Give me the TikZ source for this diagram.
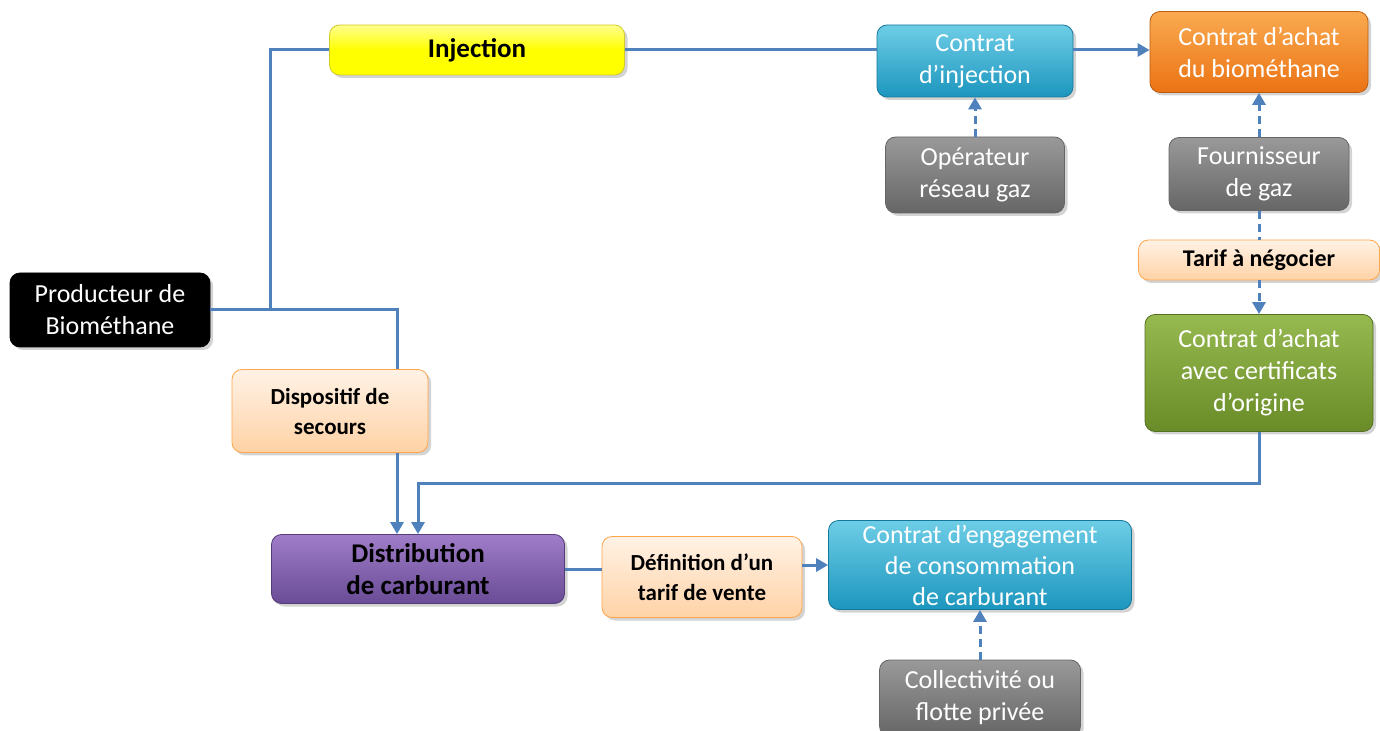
\documentclass[tikz,border=0pt]{standalone}
\usepackage{fontspec}
\setmainfont{Carlito}
\usetikzlibrary{arrows.meta,shadows}
\definecolor{lien}{RGB}{79,129,189}
\definecolor{ctrhaut}{RGB}{110,205,230}
\definecolor{ctrbas}{RGB}{28,150,190}
\definecolor{vhaut}{RGB}{150,185,80}
\definecolor{vbas}{RGB}{105,140,40}
\definecolor{phaut}{RGB}{160,125,200}
\definecolor{pbas}{RGB}{105,75,150}
\definecolor{ohaut}{RGB}{250,170,80}
\definecolor{obas}{RGB}{235,115,20}
\tikzset{boite/.style={rounded corners=5pt, align=center, inner sep=1pt, text=white,
    drop shadow={opacity=.35,shadow xshift=1.5pt,shadow yshift=-1.5pt},
    font=\fontsize{13}{16}\selectfont},
  inj/.style={boite, draw=yellow!80!black, top color=yellow!45, bottom color=yellow, middle color=yellow, text=black, font=\bfseries\fontsize{13.5}{15}\selectfont},
  ctr/.style={boite, draw=ctrbas!80!black, top color=ctrhaut, bottom color=ctrbas},
  achat/.style={boite, draw=obas!80!black, top color=ohaut, bottom color=obas},
  acteur/.style={boite, draw=black!60, top color=black!40, bottom color=black!60},
  note/.style={boite, draw=orange!70, top color=orange!10, bottom color=orange!35, text=black, font=\bfseries\fontsize{11.5}{15}\selectfont},
  certif/.style={boite, draw=vbas!80!black, top color=vhaut, bottom color=vbas},
  prod/.style={boite, draw=black, fill=black},
  distri/.style={boite, draw=pbas!80!black, top color=phaut, bottom color=pbas, text=black, font=\bfseries\fontsize{13.5}{16}\selectfont},
  lien/.style={draw=lien, line width=1.5pt},
  fleche/.style={lien, -{Triangle[length=6pt,width=6.5pt]}},
  tirets/.style={lien, dash pattern=on 4pt off 2.5pt}}

\begin{document}
\begin{tikzpicture}[x=0.5pt,y=-0.5pt]
\useasboundingbox (0,0) rectangle (1380,731);
\node[inj, minimum width=147.5pt, minimum height=25pt] (injection) at (477,50) {Injection};
\node[ctr, minimum width=98pt, minimum height=36pt] (cinj) at (975,61) {Contrat\\d’injection};
\node[achat, minimum width=109pt, minimum height=40.5pt] (cachat) at (1259,52) {Contrat d’achat\\du biométhane};
\node[acteur, minimum width=89.5pt, minimum height=38pt] (oper) at (975,175) {Opérateur\\réseau gaz};
\node[acteur, minimum width=90pt, minimum height=36.5pt] (fourn) at (1259,174) {Fournisseur\\de gaz};
\node[note, minimum width=120.5pt, minimum height=20pt, font=\bfseries\fontsize{12}{13}\selectfont] (tarif) at (1259,260) {Tarif à négocier};
\node[certif, minimum width=114pt, minimum height=58.5pt] (ccert) at (1259,373) {Contrat d’achat\\avec certificats\\d’origine};
\node[prod, minimum width=100pt, minimum height=37pt] (prod) at (110,310) {Producteur de\\Biométhane};
\node[note, minimum width=98pt, minimum height=41.5pt] (secours) at (330,411) {Dispositif de\\secours};
\node[distri, minimum width=146.5pt, minimum height=34.5pt] (distrib) at (418,569) {Distribution\\de carburant};
\node[note, minimum width=100pt, minimum height=40.5pt] (deftarif) at (702,577) {Définition d’un\\tarif de vente};
\node[ctr, minimum width=151.5pt, minimum height=44.5pt, font=\fontsize{13}{15.5}\selectfont] (cengag) at (980,565) {Contrat d’engagement\\de consommation\\de carburant};
\node[acteur, minimum width=100.5pt, minimum height=38pt] (collec) at (980,698) {Collectivité ou\\flotte privée};
\coordinate (j) at (270,310);
% injection branch
\draw[lien] (prod.east) -- (j) |- (injection.west);
\draw[lien] (injection.east) -- (injection.east -| cinj.west);
\draw[fleche] (injection.east -| cinj.east) -- (injection.east -| cachat.west);
\draw[tirets, -{Triangle[length=6pt,width=6.5pt]}] (oper.north) -- (cinj.south);
\draw[tirets, -{Triangle[length=6pt,width=6.5pt]}] (fourn.north) -- (cachat.south);
\draw[tirets] (fourn.south) -- (tarif.north);
\draw[tirets, -{Triangle[length=6pt,width=6.5pt]}] (tarif.south) -- (ccert.north);
\draw[fleche] (ccert.south) -- ++(0,52) -| ([xshift=0pt]distrib.north);
% fuel branch
\draw[lien] (j) -| ([xshift=33.5pt]secours.north);
\draw[fleche] ([xshift=33.5pt]secours.south) -- ([xshift=-10.5pt]distrib.north);
\draw[lien] (distrib.east) -- (distrib.east -| deftarif.west);
\draw[fleche] (cengag.west -| deftarif.east) -- (cengag.west);
\draw[tirets, -{Triangle[length=6pt,width=6.5pt]}] (collec.north) -- (cengag.south);
\end{tikzpicture}
\end{document}
